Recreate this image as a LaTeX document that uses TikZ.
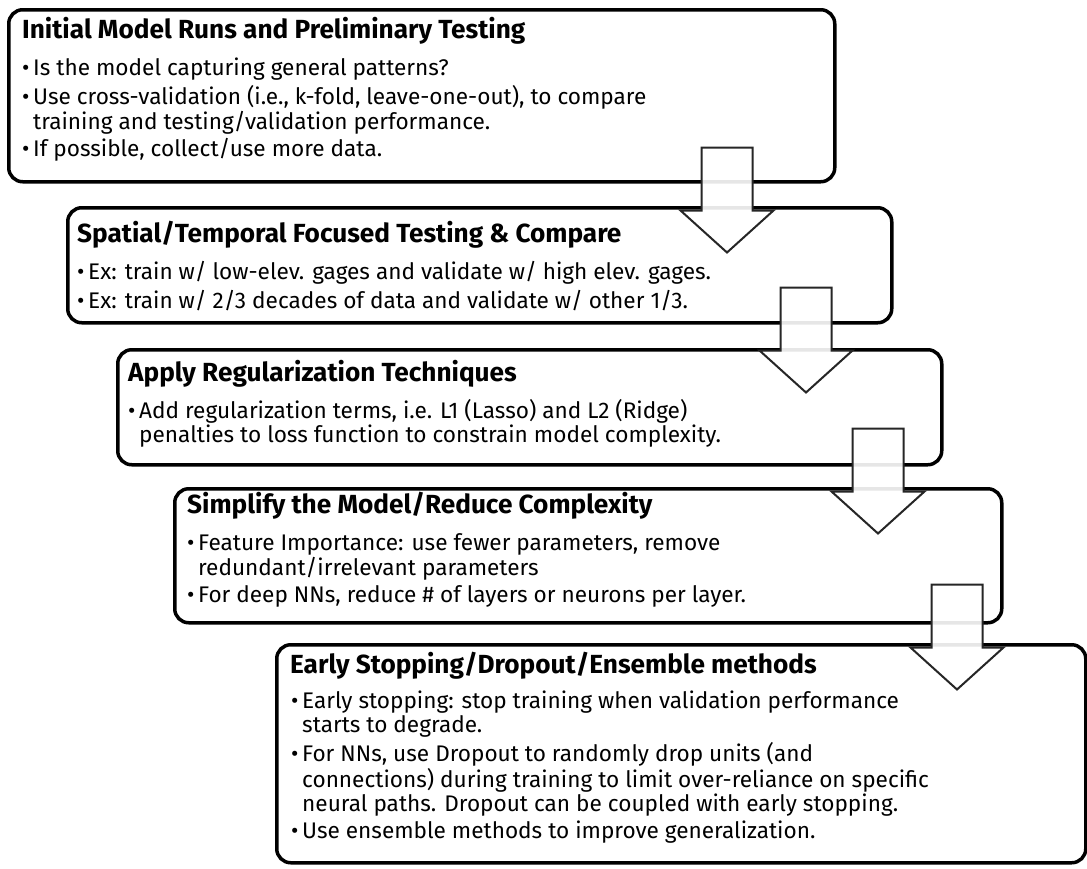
\documentclass[tikz,border=0pt]{standalone}
\usepackage{fontspec}
\setmainfont{Fira Sans}
\usetikzlibrary{calc}
\newcommand{\bodyfont}{\fontsize{22.6}{23.5}\selectfont}
\newcommand{\ttlfont}{\fontsize{26.2}{28}\selectfont\bfseries}
\begin{document}
\begin{tikzpicture}[x=1pt,y=-1pt,
  box/.style={draw=black, line width=3.5pt, rounded corners=14pt, fill=white, anchor=north west, inner sep=0pt},
  ttl/.style={anchor=base west, inner sep=0pt, font=\ttlfont},
  txt/.style={anchor=base west, inner sep=0pt, font=\bodyfont},
  blk/.style={draw=black!85, line width=2pt, fill=white, fill opacity=0.9, line join=miter}
]
\useasboundingbox (0,0) rectangle (1087,868);
% boxes
\node[box, minimum width=826pt, minimum height=172pt] (b1) at (7,8) {};
\node[box, minimum width=824pt, minimum height=115pt] (b2) at (66,206) {};
\node[box, minimum width=824pt, minimum height=115pt] (b3) at (116,348) {};
\node[box, minimum width=827pt, minimum height=134pt] (b4) at (173,487) {};
\node[box, minimum width=809pt, minimum height=218pt] (b5) at (275,643) {};

% box 1
\node[ttl] (t1) at (22,38) {Initial Model Runs and Preliminary Testing};
\node[txt] (p11) at (22,75) {\begin{tabular}[t]{@{}p{11pt}@{}l@{}}\textbullet & Is the model capturing general patterns?\end{tabular}};
\node[txt] (p12) at (22,104) {\begin{tabular}[t]{@{}p{11pt}@{}l@{}}\textbullet & Use cross-validation (i.e., k-fold, leave-one-out), to compare\\ & training and testing/validation performance.\end{tabular}};
\node[txt] (p13) at (22,156.5) {\begin{tabular}[t]{@{}p{11pt}@{}l@{}}\textbullet & If possible, collect/use more data.\end{tabular}};

% box 2
\node[ttl] (t2) at (77,242) {Spatial/Temporal Focused Testing \& Compare};
\node[txt] (p21) at (77,279) {\begin{tabular}[t]{@{}p{11pt}@{}l@{}}\textbullet & Ex: train w/ low-elev. gages and validate w/ high elev. gages.\end{tabular}};
\node[txt] (p22) at (77,308) {\begin{tabular}[t]{@{}p{11pt}@{}l@{}}\textbullet & Ex: train w/ 2/3 decades of data and validate w/ other 1/3.\end{tabular}};

% box 3
\node[ttl] (t3) at (128,381) {Apply Regularization Techniques};
\node[txt] (p31) at (128,418) {\begin{tabular}[t]{@{}p{11pt}@{}l@{}}\textbullet & Add regularization terms, i.e. L1 (Lasso) and L2 (Ridge)\\ & penalties to loss function to constrain model complexity.\end{tabular}};

% box 4
\node[ttl] (t4) at (187,513) {Simplify the Model/Reduce Complexity};
\node[txt] (p41) at (187,550) {\begin{tabular}[t]{@{}p{11pt}@{}l@{}}\textbullet & Feature Importance: use fewer parameters, remove\\ & redundant/irrelevant parameters\end{tabular}};
\node[txt] (p42) at (187,602.5) {\begin{tabular}[t]{@{}p{11pt}@{}l@{}}\textbullet & For deep NNs, reduce \# of layers or neurons per layer.\end{tabular}};

% box 5
\node[ttl] (t5) at (290,673) {Early Stopping/Dropout/Ensemble methods};
\node[txt] (p51) at (291,708) {\begin{tabular}[t]{@{}p{11pt}@{}l@{}}\textbullet & Early stopping: stop training when validation performance\\ & starts to degrade.\end{tabular}};
\node[txt] (p52) at (291,761) {\begin{tabular}[t]{@{}p{11pt}@{}l@{}}\textbullet & For NNs, use Dropout to randomly drop units (and\\ & connections) during training to limit over-reliance on specific\\ & neural paths. Dropout can be coupled with early stopping.\end{tabular}};
\node[txt] (p53) at (291,838) {\begin{tabular}[t]{@{}p{11pt}@{}l@{}}\textbullet & Use ensemble methods to improve generalization.\end{tabular}};

% block arrows between consecutive boxes (shaft top centre; tip inside next box)
\coordinate (a1) at ($(b1.south west)+(720,-36)$);
\coordinate (a2) at ($(b2.south west)+(740,-37)$);
\coordinate (a3) at ($(b3.south west)+(762,-38)$);
\coordinate (a4) at ($(b4.south west)+(784,-40)$);
\foreach \a in {a1,a2,a3,a4}{
  \path[blk] ($(\a)+(-25.5,0)$) -- ++(0,63) -- ++(-21,0) -- ($(\a)+(0,105)$) -- ($(\a)+(46.5,63)$) -- ++(-21,0) -- ++(0,-63) -- cycle;
}
\end{tikzpicture}
\end{document}
